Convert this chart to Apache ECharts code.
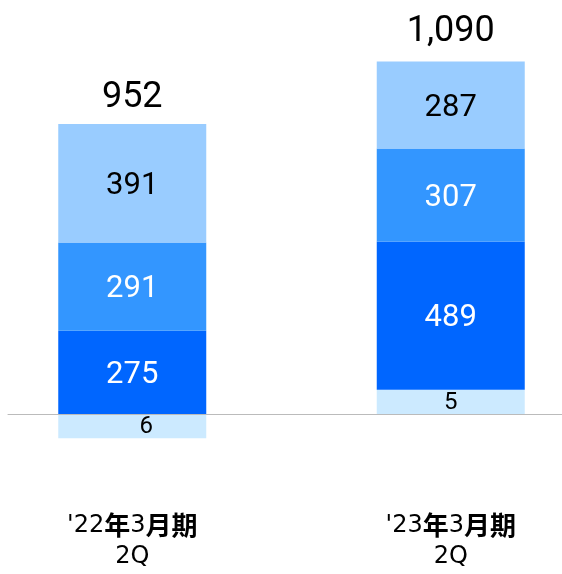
<!DOCTYPE html>
<html>
<head>
<meta charset="utf-8">
<script src="https://cdn.jsdelivr.net/npm/echarts@6/dist/echarts.min.js"></script>
<style>
    html, body { margin: 0; padding: 0; background: #fff; }
    #chart { width: 562px; height: 574px; }
</style>
</head>
<body>
<div id="chart"></div>
<script>
// Values
const periods = ["'22年3月期", "'23年3月期"];
const quarter = '2Q';
const otherVals = [-6, 5];     // small bottom segment
const darkVals = [275, 489];
const midVals = [291, 307];
const lightVals = [391, 287];
const totals = [952, 1090];

// tiny segments get a minimum visible height, label still shows the real number
const MIN_SHOWN = 80;
const Y_MIN = -300;
const Y_MAX = 1320;

const numFont = 'Roboto';

function segLabel(color, size) {
    return {
        show: true,
        position: 'inside',
        offset: [0, 3],
        color: color,
        fontFamily: numFont,
        fontSize: size
    };
}

function xLabel(name) {
    // digits regular, kanji bold
    const top = name.split(/([年月期]+)/).filter(Boolean)
        .map(s => /[年月期]/.test(s) ? `{b|${s}}` : `{n|${s}}`)
        .join('');
    return top + '\n{n|' + quarter + '}';
}

const chart = echarts.init(document.getElementById('chart'));

chart.setOption({
    animation: false,
    backgroundColor: '#fff',
    grid: [
        { left: -27, right: -48, top: 14, bottom: 69, outerBoundsMode: 'none', containLabel: false },   // bars
        { left: 8, right: 0, top: 14, bottom: 69, outerBoundsMode: 'none' }        // baseline only
    ],
    xAxis: [
        {
            type: 'category',
            gridIndex: 0,
            data: periods,
            axisLine: { show: false, onZero: false },
            axisTick: { show: false },
            axisLabel: {
                margin: 5,
                formatter: xLabel,
                rich: {
                    n: { fontFamily: 'DejaVu Sans', fontSize: 24, color: '#000', lineHeight: 31 },
                    b: { fontFamily: 'Noto Sans CJK JP', fontWeight: 'bold', fontSize: 26, color: '#000', lineHeight: 31 }
                }
            }
        },
        {
            type: 'category',
            gridIndex: 1,
            data: [''],
            z: 10,
            axisLine: { show: true, lineStyle: { color: '#bbbbbb', width: 1 } },
            axisTick: { show: false },
            axisLabel: { show: false }
        }
    ],
    yAxis: [
        { type: 'value', gridIndex: 0, min: Y_MIN, max: Y_MAX, show: false, splitLine: { show: false } },
        { type: 'value', gridIndex: 1, min: Y_MIN, max: Y_MAX, show: false, splitLine: { show: false } }
    ],
    series: [
        {
            name: 'other',
            type: 'bar',
            stack: 'total',
            barWidth: 148,
            itemStyle: { color: '#cceaff' },
            label: Object.assign(segLabel('#000', 24), {
                offset: [0, 1],
                formatter: (p) => String(Math.abs(otherVals[p.dataIndex]))
            }),
            data: otherVals.map((v, i) => {
                const item = { value: Math.sign(v) * Math.max(Math.abs(v), MIN_SHOWN) };
                if (i === 0) item.label = { offset: [14, 1] };
                return item;
            })
        },
        {
            name: 'dark',
            type: 'bar',
            stack: 'total',
            barWidth: 148,
            itemStyle: { color: '#0066ff' },
            label: segLabel('#fff', 31),
            data: darkVals
        },
        {
            name: 'mid',
            type: 'bar',
            stack: 'total',
            barWidth: 148,
            itemStyle: { color: '#3396ff' },
            label: segLabel('#fff', 31),
            data: midVals
        },
        {
            name: 'light',
            type: 'bar',
            stack: 'total',
            barWidth: 148,
            itemStyle: { color: '#99ccff' },
            label: segLabel('#000', 31),
            data: lightVals
        },
        {
            // zero-height bar that carries the total on top of the stack
            name: 'total',
            type: 'bar',
            stack: 'total',
            barWidth: 148,
            itemStyle: { color: 'transparent' },
            label: {
                show: true,
                position: 'top',
                distance: 12,
                color: '#000',
                fontFamily: numFont,
                fontSize: 36,
                formatter: (p) => totals[p.dataIndex].toLocaleString('en-US')
            },
            data: totals.map((v, i) => (i === 0 ? { value: 0, label: { distance: 8 } } : 0))
        }
    ]
});
</script>
</body>
</html>
